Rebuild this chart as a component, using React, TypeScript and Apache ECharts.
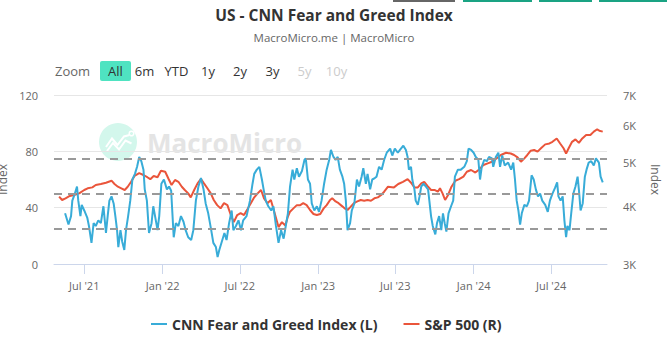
import React, { useEffect, useRef } from "react";
import * as echarts from "echarts";

// ---------- data ----------
const fgDates = [
  "2021-05-17","2021-05-25","2021-05-31","2021-06-03","2021-06-09","2021-06-14","2021-06-17","2021-06-22","2021-06-25","2021-07-01",
  "2021-07-08","2021-07-12","2021-07-18","2021-07-23","2021-07-28","2021-08-03","2021-08-09","2021-08-15","2021-08-21","2021-08-25",
  "2021-08-29","2021-09-03","2021-09-08","2021-09-12","2021-09-16","2021-09-19","2021-09-24","2021-09-28","2021-10-03","2021-10-07",
  "2021-10-12","2021-10-17","2021-10-22","2021-10-28","2021-11-02","2021-11-07","2021-11-12","2021-11-17","2021-11-20","2021-11-25",
  "2021-11-30","2021-12-06","2021-12-10","2021-12-16","2021-12-20","2021-12-24","2021-12-29","2022-01-04","2022-01-11","2022-01-16",
  "2022-01-21","2022-01-27","2022-02-01","2022-02-07","2022-02-13","2022-02-19","2022-02-24","2022-03-02","2022-03-09","2022-03-14",
  "2022-03-20","2022-03-26","2022-04-01","2022-04-07","2022-04-12","2022-04-18","2022-04-25","2022-04-30","2022-05-06","2022-05-10",
  "2022-05-14","2022-05-20","2022-05-26","2022-05-31","2022-06-06","2022-06-12","2022-06-16","2022-06-22","2022-06-28","2022-07-04",
  "2022-07-09","2022-07-17","2022-07-25","2022-07-31","2022-08-04","2022-08-10","2022-08-16","2022-08-22","2022-08-26","2022-08-31",
  "2022-09-06","2022-09-13","2022-09-18","2022-09-24","2022-09-30","2022-10-06","2022-10-12","2022-10-17","2022-10-22","2022-10-27",
  "2022-11-02","2022-11-06","2022-11-12","2022-11-17","2022-11-24","2022-11-30","2022-12-03","2022-12-08","2022-12-13","2022-12-17",
  "2022-12-23","2022-12-29","2023-01-03","2023-01-09","2023-01-15","2023-01-21","2023-01-27","2023-01-31","2023-02-06","2023-02-11",
  "2023-02-16","2023-02-21","2023-02-27","2023-03-03","2023-03-07","2023-03-11","2023-03-17","2023-03-21","2023-03-27","2023-04-02",
  "2023-04-07","2023-04-13","2023-04-17","2023-04-23","2023-04-27","2023-05-03","2023-05-08","2023-05-14","2023-05-18","2023-05-24",
  "2023-05-30","2023-06-05","2023-06-11","2023-06-19","2023-06-24","2023-06-30","2023-07-07","2023-07-12","2023-07-20","2023-07-26",
  "2023-07-30","2023-08-02","2023-08-07","2023-08-10","2023-08-15","2023-08-18","2023-08-23","2023-08-27","2023-08-31","2023-09-05",
  "2023-09-11","2023-09-16","2023-09-19","2023-09-23","2023-09-27","2023-10-03","2023-10-07","2023-10-12","2023-10-17","2023-10-21",
  "2023-10-25","2023-10-29","2023-11-03","2023-11-09","2023-11-14","2023-11-18","2023-11-25","2023-12-02","2023-12-10","2023-12-16",
  "2023-12-20","2023-12-26","2024-01-01","2024-01-06","2024-01-12","2024-01-16","2024-01-20","2024-01-26","2024-02-01","2024-02-06",
  "2024-02-13","2024-02-16","2024-02-22","2024-02-28","2024-03-03","2024-03-08","2024-03-14","2024-03-22","2024-03-29","2024-04-03",
  "2024-04-07","2024-04-11","2024-04-15","2024-04-19","2024-04-23","2024-04-29","2024-05-05","2024-05-10","2024-05-16","2024-05-21",
  "2024-05-26","2024-05-31","2024-06-05","2024-06-10","2024-06-17","2024-06-23","2024-06-28","2024-07-04","2024-07-10","2024-07-15",
  "2024-07-18","2024-07-23","2024-07-28","2024-08-01","2024-08-05","2024-08-08","2024-08-13","2024-08-17","2024-08-22","2024-08-27",
  "2024-09-01","2024-09-04","2024-09-08","2024-09-13","2024-09-18","2024-09-22","2024-09-27","2024-10-03","2024-10-09","2024-10-14",
  "2024-10-21","2024-10-25","2024-10-30"
];
const fgValues = [
  36,28,34,45,50,55,45,34,42,38,
  33,27,15,29,27,31,29,41,22,34,
  45,48,43,34,24,12,24,16,10,24,
  34,45,60,64,69,76,73,67,53,45,
  22,29,41,31,24,34,57,60,53,55,
  52,19,29,27,34,30,24,19,17,24,
  45,55,61,53,43,36,24,15,12,5,
  10,16,22,17,29,38,24,27,31,24,
  31,34,45,57,64,67,69,60,53,45,
  41,38,41,27,15,24,18,27,36,55,
  67,60,68,62,66,74,75,60,57,43,
  38,41,37,45,57,67,74,81,76,74,
  76,67,62,57,45,24,29,38,43,60,
  55,62,68,57,64,53,60,61,62,69,
  67,74,79,82,77,82,79,81,84,81,
  76,67,69,60,53,45,42,48,55,57,
  55,53,45,34,27,21,29,34,24,36,
  29,23,36,41,45,62,67,67,69,73,
  82,81,79,76,74,60,69,74,73,76,
  75,69,76,79,69,77,70,72,67,72,
  60,45,38,28,36,42,41,45,63,60,
  53,48,50,45,42,37,45,50,54,58,
  48,45,48,31,19,27,24,36,50,55,
  62,53,38,43,62,67,72,73,70,75,
  72,62,58
];

const spDates = [
  "2021-05-03","2021-05-10","2021-05-18","2021-05-28","2021-06-07","2021-06-19","2021-07-01","2021-07-09","2021-07-20","2021-07-28",
  "2021-08-09","2021-08-21","2021-09-03","2021-09-10","2021-09-18","2021-09-26","2021-10-04","2021-10-11","2021-10-19","2021-10-27",
  "2021-11-07","2021-11-17","2021-11-26","2021-12-03","2021-12-11","2021-12-20","2021-12-28","2022-01-07","2022-01-15","2022-01-22",
  "2022-01-30","2022-02-07","2022-02-15","2022-02-22","2022-03-02","2022-03-08","2022-03-16","2022-03-24","2022-04-01","2022-04-08",
  "2022-04-16","2022-04-24","2022-05-01","2022-05-09","2022-05-17","2022-05-25","2022-06-02","2022-06-10","2022-06-17","2022-06-25",
  "2022-07-03","2022-07-11","2022-07-19","2022-07-27","2022-08-04","2022-08-12","2022-08-20","2022-08-27","2022-09-04","2022-09-12",
  "2022-09-20","2022-09-30","2022-10-08","2022-10-16","2022-10-22","2022-10-27","2022-11-04","2022-11-12","2022-11-20","2022-11-27",
  "2022-12-05","2022-12-13","2022-12-21","2022-12-29","2023-01-06","2023-01-14","2023-01-21","2023-01-29","2023-02-03","2023-02-11",
  "2023-02-18","2023-02-26","2023-03-04","2023-03-11","2023-03-18","2023-03-26","2023-04-03","2023-04-11","2023-04-19","2023-04-27",
  "2023-05-05","2023-05-13","2023-05-21","2023-05-29","2023-06-05","2023-06-14","2023-06-28","2023-07-08","2023-07-19","2023-07-30",
  "2023-08-07","2023-08-15","2023-08-23","2023-08-31","2023-09-07","2023-09-15","2023-09-23","2023-10-01","2023-10-09","2023-10-14",
  "2023-10-20","2023-10-26","2023-11-02","2023-11-10","2023-11-19","2023-11-28","2023-12-08","2023-12-16","2023-12-26","2024-01-05",
  "2024-01-14","2024-01-24","2024-02-03","2024-02-13","2024-02-22","2024-03-05","2024-03-17","2024-03-28","2024-04-05","2024-04-13",
  "2024-04-21","2024-04-29","2024-05-06","2024-05-14","2024-05-22","2024-05-30","2024-06-07","2024-06-17","2024-06-27","2024-07-04",
  "2024-07-14","2024-07-22","2024-07-30","2024-08-05","2024-08-11","2024-08-19","2024-08-27","2024-09-04","2024-09-12","2024-09-21",
  "2024-10-01","2024-10-09","2024-10-17","2024-10-22","2024-10-30"
];
const spValues = [
  4205,4135,4170,4220,4240,4275,4348,4385,4405,4458,
  4480,4510,4555,4480,4420,4385,4348,4420,4530,4665,
  4730,4687,4635,4590,4665,4635,4790,4765,4595,4458,
  4571,4530,4420,4348,4275,4190,4348,4495,4595,4495,
  4385,4275,4135,4030,3965,4070,4030,3835,3700,3835,
  3870,3835,3950,4070,4190,4275,4348,4170,4070,4135,
  3900,3610,3700,3640,3805,3900,3965,4030,4030,4070,
  4030,3933,3855,3835,3855,3965,4030,4135,4170,4105,
  4070,4010,3965,3933,3995,4070,4105,4135,4120,4135,
  4120,4170,4190,4240,4310,4420,4405,4480,4530,4590,
  4510,4405,4405,4495,4530,4435,4348,4348,4310,4385,
  4275,4135,4240,4420,4555,4590,4650,4765,4806,4745,
  4820,4928,4970,5010,5080,5182,5240,5220,5182,5120,
  5010,5095,5182,5295,5313,5270,5360,5465,5490,5535,
  5630,5490,5360,5220,5360,5535,5605,5505,5630,5728,
  5728,5825,5895,5850,5825
];

const xTickDates = ["2021-07-01","2022-01-01","2022-07-01","2023-01-01","2023-07-01","2024-01-01","2024-07-01"];
const xTickLabels = ["Jul '21","Jan '22","Jul '22","Jan '23","Jul '23","Jan '24","Jul '24"];
const leftTicks = [0, 40, 80, 120];
const rightTicks = [3000, 4000, 5000, 6000, 7000];
const guideLevels = [25, 50, 75];
const rangeButtons = ["6m", "YTD", "1y", "2y", "3y", "5y", "10y"];

const FG_NAME = "CNN Fear and Greed Index (L)";
const SP_NAME = "S&P 500 (R)";
const FONT = '"Open Sans", "Noto Sans", sans-serif';

function ts(d: string): number {
  const [y, m, day] = d.split("-").map(Number);
  return Date.UTC(y, m - 1, day);
}

export default function App() {
  const ref = useRef<HTMLDivElement>(null);

  useEffect(() => {
    document.body.style.margin = "0";
    const chart = echarts.init(ref.current!, null, { renderer: "svg" });
    const xTickVals = xTickDates.map(ts);

    const btnX = [144.5, 176.5, 208, 240, 272.5, 304.5, 336.5];
    const btnColor = ["#333", "#333", "#333", "#333", "#333", "#ccc", "#ccc"];

    const option: any = {
      animation: false,
      backgroundColor: "#fff",
      textStyle: { fontFamily: FONT },
      title: [
        {
          text: "US - CNN Fear and Greed Index",
          left: 329,
          textAlign: "center",
          top: 2,
          textStyle: { fontSize: 15.5, fontWeight: "bold", color: "#333", fontFamily: FONT },
        },
        {
          text: "MacroMicro.me | MacroMicro",
          left: 329,
          textAlign: "center",
          top: 26,
          textStyle: { fontSize: 11.5, fontWeight: "normal", color: "#666", fontFamily: FONT },
        },
      ],
      legend: {
        data: [FG_NAME, SP_NAME],
        left: 146,
        top: 312,
        icon: "rect",
        itemWidth: 16,
        itemHeight: 2,
        itemGap: 26,
        textStyle: { fontSize: 14, fontWeight: "bold", color: "#333", fontFamily: FONT },
      },
      grid: { left: 54, right: 60, top: 95, bottom: 91, outerBoundsMode: "none", containLabel: false },
      xAxis: {
        type: "value",
        min: ts("2021-04-21"),
        max: ts("2024-11-09"),
        axisLine: { onZero: false, lineStyle: { color: "#ccd6eb", width: 1 } },
        axisTick: { show: true, inside: false, length: 10, customValues: xTickVals, lineStyle: { color: "#ccd6eb" } },
        axisLabel: {
          customValues: xTickVals,
          color: "#666",
          fontSize: 11,
          margin: 16,
          formatter: (v: number) => {
            const i = xTickVals.indexOf(v);
            return i >= 0 ? xTickLabels[i] : "";
          },
        },
        splitLine: { show: false },
      },
      yAxis: [
        {
          type: "value",
          position: "left",
          min: leftTicks[0],
          max: leftTicks[leftTicks.length - 1],
          interval: 40,
          name: "Index",
          nameLocation: "middle",
          nameGap: 44,
          nameRotate: 90,
          nameTextStyle: { color: "#666", fontSize: 12 },
          axisLabel: { color: "#666", fontSize: 11, margin: 16 },
          axisLine: { show: false },
          axisTick: { show: false },
          splitLine: { lineStyle: { color: "#e6e6e6" } },
        },
        {
          type: "value",
          position: "right",
          min: Math.log(rightTicks[0]),
          max: Math.log(rightTicks[rightTicks.length - 1]),
          name: "Index",
          nameLocation: "middle",
          nameGap: 42,
          nameRotate: -90,
          nameTextStyle: { color: "#666", fontSize: 12 },
          axisLabel: {
            customValues: rightTicks.map((v) => Math.log(v)),
            color: "#666",
            fontSize: 11,
            margin: 16,
            formatter: (v: number) => Math.round(Math.exp(v) / 1000) + "K",
          },
          axisLine: { show: false },
          axisTick: { show: false },
          splitLine: { show: false },
        },
      ],
      series: [
        {
          name: FG_NAME,
          type: "line",
          yAxisIndex: 0,
          symbol: "none",
          showSymbol: false,
          z: 3,
          data: fgDates.map((d, i) => [ts(d), fgValues[i]]),
          lineStyle: { color: "#38acd8", width: 2 },
          itemStyle: { color: "#38acd8" },
          markLine: {
            silent: true,
            symbol: "none",
            label: { show: false },
            lineStyle: { color: "#999", width: 2, type: [8, 6] },
            data: guideLevels.map((v) => ({ yAxis: v })),
          },
        },
        {
          name: SP_NAME,
          type: "line",
          yAxisIndex: 1,
          symbol: "none",
          showSymbol: false,
          z: 2,
          data: spDates.map((d, i) => [ts(d), Math.log(spValues[i])]),
          lineStyle: { color: "#ea553b", width: 2 },
          itemStyle: { color: "#ea553b" },
        },
      ],
      graphic: [
        { type: "rect", shape: { x: 393, y: 0, width: 62, height: 2 }, style: { fill: "#666" } },
        { type: "rect", shape: { x: 463, y: 0, width: 69, height: 2 }, style: { fill: "#1aa383" } },
        { type: "rect", shape: { x: 539, y: 0, width: 53, height: 2 }, style: { fill: "#1aa383" } },
        { type: "rect", shape: { x: 599, y: 0, width: 68, height: 2 }, style: { fill: "#1aa383" } },
        { type: "text", x: 55, y: 71, style: { text: "Zoom", fill: "#666", fontSize: 13, fontFamily: FONT, verticalAlign: "middle" } },
        { type: "rect", shape: { x: 100, y: 61, width: 31, height: 20, r: 2 }, style: { fill: "#4fe3c1" } },
        { type: "text", x: 115.5, y: 71, style: { text: "All", fill: "#333", fontSize: 13, fontFamily: FONT, align: "center", verticalAlign: "middle" } },
        ...rangeButtons.map((t, i) => ({
          type: "text",
          x: btnX[i],
          y: 71,
          style: { text: t, fill: btnColor[i], fontSize: 13, fontFamily: FONT, align: "center", verticalAlign: "middle" },
        })),
        { type: "circle", z: -1, shape: { cx: 118, cy: 142, r: 19 }, style: { fill: "#d3f7ec" } },
        {
          type: "polyline", z: -1,
          shape: { points: [[106, 147], [112, 138.5], [117.5, 145], [124, 136.5], [129.5, 135]] },
          style: { stroke: "#fff", lineWidth: 2, fill: null },
        },
        {
          type: "polyline", z: -1,
          shape: { points: [[107, 151], [113, 143], [119, 149.5], [125.5, 140.5], [131.5, 143.5]] },
          style: { stroke: "#fff", lineWidth: 2, fill: null },
        },
        { type: "circle", z: -1, shape: { cx: 131.5, cy: 133.5, r: 2.3 }, style: { fill: "none", stroke: "#fff", lineWidth: 1.5 } },
        {
          type: "text", z: -1, x: 147, y: 143,
          style: { text: "MacroMicro", fill: "#e4e4e4", fontSize: 26, fontWeight: "bold", fontFamily: FONT, verticalAlign: "middle" },
        },
      ],
    };

    chart.setOption(option);
    return () => chart.dispose();
  }, []);

  return <div ref={ref} style={{ width: 667, height: 355 }} />;
}
